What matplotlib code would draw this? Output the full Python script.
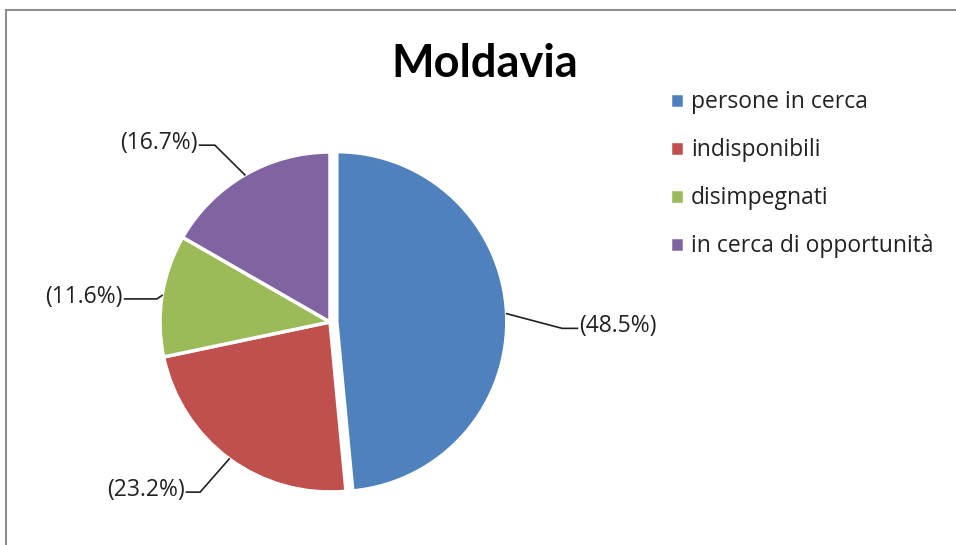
import numpy as np
import matplotlib.pyplot as plt
from matplotlib.patches import Rectangle

plt.rcParams['font.family'] = ['Open Sans', 'DejaVu Sans']

# dati
categorie = ['persone in cerca', 'indisponibili', 'disimpegnati', 'in cerca di opportunità']
valori = [48.5, 23.2, 11.6, 16.7]
colori = ['#4F81BD', '#C0504D', '#9BBB59', '#8064A2']
titolo = 'Moldavia'

W, H = 956, 545
fig = plt.figure(figsize=(W / 100, H / 100), dpi=100)

# cornice grigia (solo lato sinistro e superiore visibili)
fig.add_artist(Rectangle((6 / W, -0.1), 1.2, 1.1 - 10 / H, transform=fig.transFigure,
                         fill=False, edgecolor='#8c8c8c', linewidth=1.5))

# assi quadrati: raggio della torta = 170 px, centro a (330, 322)
L = 1.3
S = 2 * 170 * L
ax = fig.add_axes([(330 - S / 2) / W, (H - 322 - S / 2) / H, S / W, S / H])

esplodi = [0.04, 0, 0, 0]
wedges, _ = ax.pie(valori, colors=colori, startangle=90, counterclock=False,
                   explode=esplodi, radius=1,
                   wedgeprops=dict(edgecolor='white', linewidth=2.5))
ax.set_xlim(-L, L)
ax.set_ylim(-L, L)
ax.set_aspect('equal')
ax.axis('off')

# etichette con linee guida
r_gomito = [1.326, 1.259, 1.027, 1.241]
d_theta = [-4.4, -1.0, 1.4, 3.0]
coda = [0.09, 0.08, 0.19, 0.09]
for w, v, e, rg, dt, c in zip(wedges, valori, esplodi, r_gomito, d_theta, coda):
    th = np.deg2rad((w.theta1 + w.theta2) / 2)
    ox, oy = e * np.cos(th), e * np.sin(th)
    p0 = (ox + np.cos(th), oy + np.sin(th))
    p1 = (ox + rg * np.cos(th + np.deg2rad(dt)), oy + rg * np.sin(th + np.deg2rad(dt)))
    s = 1 if p1[0] > 0 else -1
    p2 = (p1[0] + s * c, p1[1])
    ax.plot([p0[0], p1[0], p2[0]], [p0[1], p1[1], p2[1]], color='#202020', lw=1.2,
            solid_joinstyle='miter', clip_on=False)
    ax.text(p2[0] + s * 0.012, p2[1] + 0.014, f'({v:.1f}%)', ha='left' if s > 0 else 'right',
            va='center', fontsize=16.5, color='#222222', clip_on=False)

fig.text(485 / W, 1 - 64 / H, titolo, ha='center', va='center', fontsize=32.5,
         fontweight='bold', color='black', family=['Lato', 'DejaVu Sans'])

leg = fig.legend(wedges, categorie, loc='upper left', bbox_to_anchor=(661 / W, 1 - 81 / H),
                 frameon=False, fontsize=16.5, handlelength=0.62, handleheight=0.62,
                 handletextpad=0.3, labelspacing=1.05, borderaxespad=0)
for t in leg.get_texts():
    t.set_color('#222222')

fig.savefig('out.png', dpi=100, facecolor='white')
